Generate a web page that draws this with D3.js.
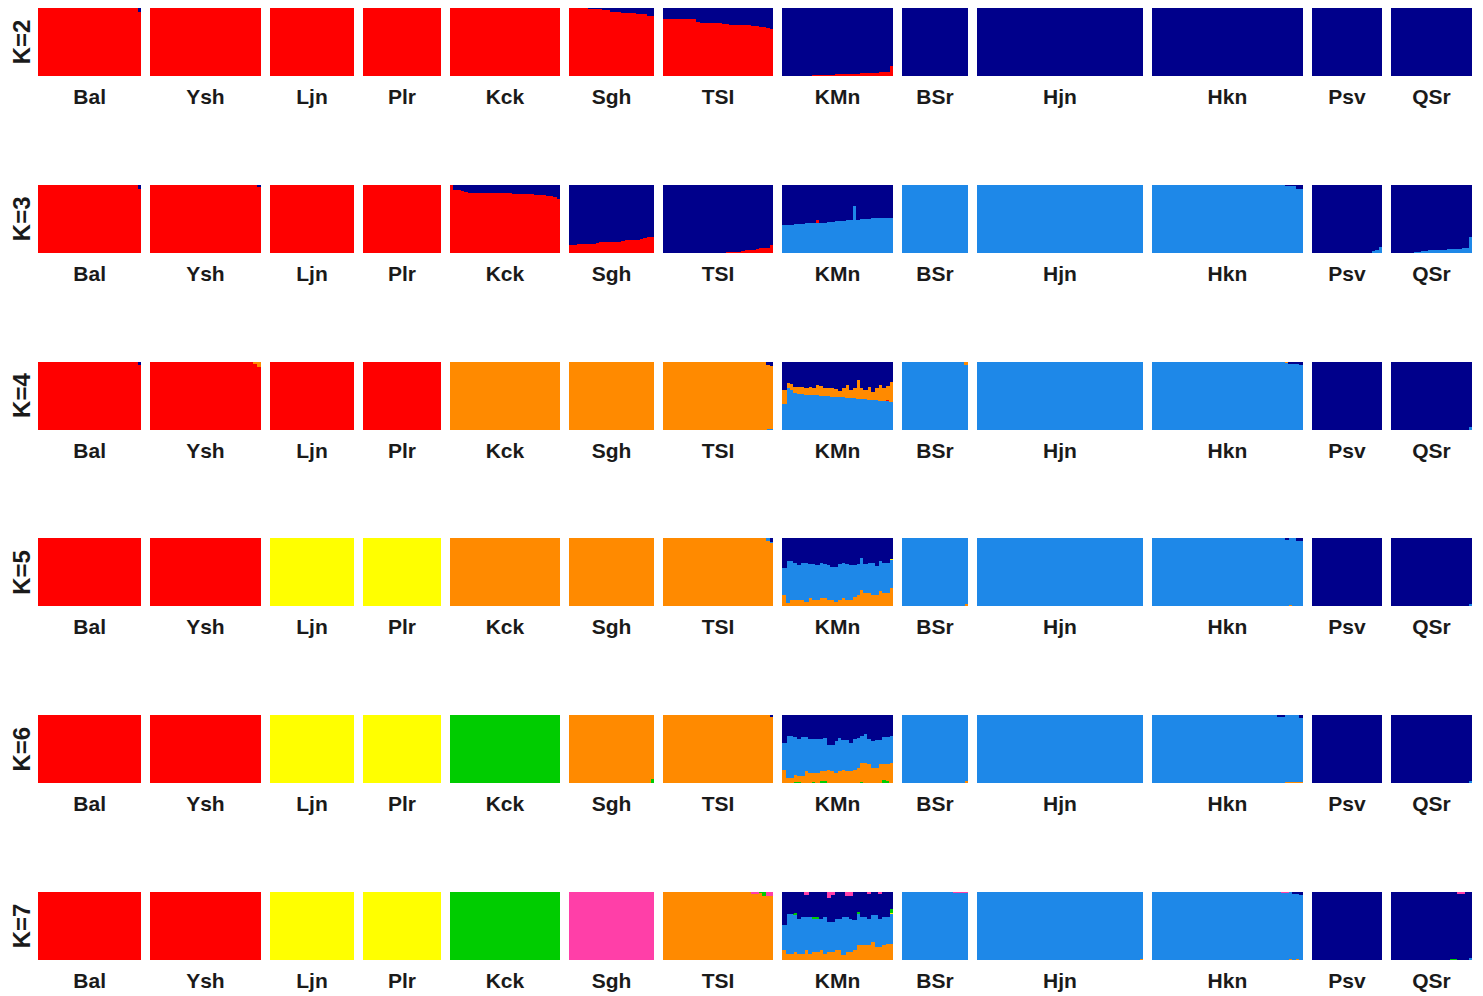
<!DOCTYPE html>
<html>
<head>
<meta charset="utf-8">
<script src="https://cdn.jsdelivr.net/npm/d3@7"></script>
<style>
  html, body { margin: 0; padding: 0; background: #ffffff; }
  svg { display: block; }
  text { font-family: "Liberation Sans", Arial, sans-serif; font-weight: bold; fill: #1a1a1a; }
</style>
</head>
<body>
<svg id="chart" width="1483" height="996"></svg>
<script>
// Population labels and sample sizes (individuals per population)
const popNames = ["Bal", "Ysh", "Ljn", "Plr", "Kck", "Sgh", "TSI", "KMn", "BSr", "Hjn", "Hkn", "Psv", "QSr"];
const popSizes = [28, 30, 23, 21, 30, 23, 30, 30, 18, 45, 41, 19, 22];

const kLabels = ["K=2", "K=3", "K=4", "K=5", "K=6", "K=7"];

const clusterColors = {
  red: "#FF0000", navy: "#00008B", lblue: "#1E88E8", orange: "#FF8A00",
  yellow: "#FFFF00", green: "#00CC00", pink: "#FF3FA8"
};

// Cluster stacking order (bottom -> top) for each K
const orderK2 = ["red", "navy"];
const orderK3 = ["lblue", "red", "navy"];
const orderK4 = ["lblue", "red", "orange", "navy"];
const orderK5 = ["orange", "lblue", "red", "yellow", "navy"];
const orderK6 = ["green", "orange", "lblue", "red", "yellow", "navy"];
const orderK7 = ["orange", "lblue", "red", "yellow", "green", "navy", "pink"];

// Membership coefficients: per population, runs of [count, q-vector] in stacking order
const qK2 = [
  [[27, [1, 0]], [1, [.94, .06]]],
  [[30, [1, 0]]],
  [[23, [1, 0]]],
  [[21, [1, 0]]],
  [[30, [1, 0]]],
  [[5, [1, 0]], [4, [.985, .015]], [2, [.97, .03]], [3, [.95, .05]], [4, [.93, .07]], [3, [.92, .08]], [2, [.88, .12]]],
  [[9, [.84, .16]], [1, [.80, .20]], [3, [.79, .21]], [3, [.78, .22]], [2, [.77, .23]], [3, [.76, .24]], [3, [.75, .25]], [2, [.74, .26]], [1, [.73, .27]], [1, [.72, .28]], [1, [.71, .29]], [1, [.69, .31]]],
  [[6, [0, 1]], [2, [.01, .99]], [3, [.015, .985]], [2, [.02, .98]], [1, [.025, .975]], [3, [.03, .97]], [2, [.035, .965]], [2, [.04, .96]], [2, [.045, .955]], [2, [.05, .95]], [1, [.055, .945]], [3, [.06, .94]], [1, [.15, .85]]],
  [[18, [0, 1]]],
  [[45, [0, 1]]],
  [[41, [0, 1]]],
  [[19, [0, 1]]],
  [[22, [0, 1]]]
];

const qK3 = [
  [[27, [0, 1, 0]], [1, [0, .95, .05]]],
  [[29, [0, 1, 0]], [1, [0, .97, .03]]],
  [[23, [0, 1, 0]]],
  [[21, [0, 1, 0]]],
  [[1, [0, 1, 0]], [2, [0, .93, .07]], [1, [0, .92, .08]], [1, [0, .90, .10]], [4, [0, .89, .11]], [3, [0, .885, .115]], [5, [0, .88, .12]], [3, [0, .875, .125]], [3, [0, .87, .13]], [1, [0, .86, .14]], [1, [0, .855, .145]], [1, [0, .85, .15]], [1, [0, .845, .155]], [1, [0, .84, .16]], [1, [0, .83, .17]], [1, [0, .80, .20]]],
  [[2, [0, .12, .88]], [4, [0, .13, .87]], [1, [0, .14, .86]], [1, [0, .15, .85]], [4, [0, .16, .84]], [2, [0, .17, .83]], [1, [0, .18, .82]], [3, [0, .19, .81]], [1, [0, .20, .80]], [1, [0, .21, .79]], [1, [0, .22, .78]], [1, [0, .23, .77]], [1, [0, .24, .76]]],
  [[17, [0, 0, 1]], [2, [0, .015, .985]], [2, [0, .02, .98]], [1, [0, .03, .97]], [1, [0, .04, .96]], [2, [0, .05, .95]], [1, [0, .06, .94]], [1, [0, .07, .93]], [2, [0, .08, .92]], [1, [0, .12, .88]]],
  [[1, [.41, 0, .59]], [2, [.42, 0, .58]], [3, [.43, 0, .57]], [3, [.44, 0, .56]], [1, [.45, .04, .51]], [2, [.45, 0, .55]], [2, [.46, 0, .54]], [3, [.47, 0, .53]], [2, [.48, 0, .52]], [1, [.69, 0, .31]], [1, [.48, 0, .52]], [3, [.50, 0, .50]], [3, [.51, 0, .49]], [3, [.52, 0, .48]]],
  [[18, [1, 0, 0]]],
  [[45, [1, 0, 0]]],
  [[36, [1, 0, 0]], [1, [.99, 0, .01]], [2, [.98, 0, .02]], [2, [.94, 0, .06]]],
  [[16, [0, 0, 1]], [1, [.03, 0, .97]], [1, [.05, 0, .95]], [1, [.09, 0, .91]]],
  [[6, [0, 0, 1]], [1, [.015, 0, .985]], [1, [.02, 0, .98]], [1, [.03, 0, .97]], [1, [.035, 0, .965]], [2, [.04, 0, .96]], [2, [.045, 0, .955]], [1, [.05, 0, .95]], [1, [.055, 0, .945]], [2, [.06, 0, .94]], [1, [.065, 0, .935]], [1, [.07, 0, .93]], [1, [.08, 0, .92]], [1, [.24, 0, .76]]]
];

const qK4 = [
  [[27, [0, 1, 0, 0]], [1, [0, .95, 0, .05]]],
  [[28, [0, 1, 0, 0]], [1, [0, .97, .03, 0]], [1, [0, .93, .07, 0]]],
  [[23, [0, 1, 0, 0]]],
  [[21, [0, 1, 0, 0]]],
  [[30, [0, 0, 1, 0]]],
  [[23, [0, 0, 1, 0]]],
  [[28, [0, 0, 1, 0]], [1, [.02, 0, .93, .05]], [1, [.02, 0, .92, .06]]],
  [[1, [.385, 0, .20, .415]], [1, [.61, 0, .075, .315]], [1, [.585, 0, .085, .33]], [1, [.55, 0, .085, .365]], [1, [.535, 0, .09, .375]],
   [1, [.525, 0, .10, .375]], [1, [.52, 0, .09, .39]], [1, [.515, 0, .11, .375]], [1, [.51, 0, .10, .39]], [1, [.51, 0, .15, .34]],
   [1, [.505, 0, .145, .35]], [1, [.50, 0, .12, .38]], [1, [.495, 0, .115, .39]], [1, [.49, 0, .12, .39]], [1, [.485, 0, .115, .40]],
   [1, [.485, 0, .085, .43]], [1, [.48, 0, .13, .39]], [1, [.475, 0, .185, .34]], [1, [.47, 0, .115, .415]], [1, [.465, 0, .145, .39]],
   [1, [.46, 0, .275, .265]], [1, [.455, 0, .155, .39]], [1, [.45, 0, .135, .415]], [1, [.445, 0, .19, .365]], [1, [.44, 0, .12, .44]],
   [1, [.435, 0, .175, .39]], [1, [.43, 0, .23, .34]], [1, [.42, 0, .19, .39]], [1, [.42, .02, .21, .35]], [1, [.41, 0, .29, .30]]],
  [[17, [1, 0, 0, 0]], [1, [.96, 0, .04, 0]]],
  [[45, [1, 0, 0, 0]]],
  [[36, [1, 0, 0, 0]], [1, [.98, 0, .02, 0]], [3, [.97, 0, 0, .03]], [1, [.95, 0, 0, .05]]],
  [[19, [0, 0, 0, 1]]],
  [[21, [0, 0, 0, 1]], [1, [.04, 0, 0, .96]]]
];

const qK5 = [
  [[28, [0, 0, 1, 0, 0]]],
  [[30, [0, 0, 1, 0, 0]]],
  [[23, [0, 0, 0, 1, 0]]],
  [[21, [0, 0, 0, 1, 0]]],
  [[30, [1, 0, 0, 0, 0]]],
  [[23, [1, 0, 0, 0, 0]]],
  [[28, [1, 0, 0, 0, 0]], [1, [.97, .03, 0, 0, 0]], [1, [.93, .02, 0, 0, .05]]],
  [[1, [.175, .40, 0, 0, .425]], [1, [.05, .615, 0, 0, .335]], [1, [.10, .575, 0, 0, .325]], [1, [.10, .55, 0, 0, .35]], [1, [.10, .515, 0, 0, .385]],
   [1, [.10, .54, 0, 0, .36]], [1, [.075, .575, 0, 0, .35]], [1, [.125, .50, 0, 0, .375]], [1, [.10, .525, 0, 0, .375]], [1, [.10, .515, 0, 0, .385]],
   [1, [.125, .515, 0, 0, .36]], [1, [.125, .51, 0, 0, .365]], [1, [.10, .515, 0, 0, .385]], [1, [.10, .485, 0, 0, .415]], [1, [.075, .51, 0, 0, .415]],
   [1, [.10, .525, 0, 0, .375]], [1, [.125, .525, 0, 0, .35]], [1, [.10, .535, 0, 0, .365]], [1, [.10, .52, 0, 0, .38]], [1, [.15, .465, 0, 0, .385]],
   [1, [.175, .45, 0, 0, .375]], [1, [.25, .465, 0, 0, .285]], [1, [.20, .425, 0, 0, .375]], [1, [.20, .45, 0, 0, .35]], [1, [.175, .475, 0, 0, .35]],
   [1, [.175, .425, 0, 0, .40]], [1, [.225, .44, 0, 0, .335]], [1, [.20, .45, 0, 0, .35]], [1, [.20, .45, 0, 0, .35]], [1, [.275, .41, 0, .02, .295]]],
  [[17, [0, 1, 0, 0, 0]], [1, [.04, .96, 0, 0, 0]]],
  [[45, [0, 1, 0, 0, 0]]],
  [[36, [0, 1, 0, 0, 0]], [1, [0, .98, 0, 0, .02]], [1, [.02, .98, 0, 0, 0]], [1, [0, 1, 0, 0, 0]], [2, [0, .96, 0, 0, .04]]],
  [[19, [0, 0, 0, 0, 1]]],
  [[21, [0, 0, 0, 0, 1]], [1, [0, .04, 0, 0, .96]]]
];

const qK6 = [
  [[28, [0, 0, 0, 1, 0, 0]]],
  [[30, [0, 0, 0, 1, 0, 0]]],
  [[23, [0, 0, 0, 0, 1, 0]]],
  [[21, [0, 0, 0, 0, 1, 0]]],
  [[30, [1, 0, 0, 0, 0, 0]]],
  [[19, [0, 1, 0, 0, 0, 0]], [3, [.01, .99, 0, 0, 0, 0]], [1, [.06, .94, 0, 0, 0, 0]]],
  [[29, [0, 1, 0, 0, 0, 0]], [1, [0, .98, 0, 0, 0, .02]]],
  [[1, [0, .205, .395, 0, 0, .40]], [1, [0, .085, .615, 0, 0, .30]], [1, [0, .085, .615, 0, 0, .30]], [1, [.02, .11, .56, 0, 0, .31]], [1, [.02, .09, .54, 0, 0, .35]],
   [1, [0, .11, .58, 0, 0, .31]], [1, [0, .18, .51, 0, 0, .31]], [1, [0, .155, .495, 0, 0, .35]], [1, [.02, .135, .505, 0, 0, .34]], [1, [0, .155, .495, 0, 0, .35]],
   [1, [.03, .15, .47, 0, 0, .35]], [1, [.03, .15, .49, 0, 0, .33]], [1, [0, .205, .365, 0, 0, .43]], [1, [0, .18, .39, 0, 0, .43]], [1, [0, .155, .465, 0, 0, .38]],
   [1, [0, .18, .49, 0, 0, .33]], [1, [0, .205, .435, 0, 0, .36]], [1, [0, .18, .46, 0, 0, .36]], [1, [0, .18, .42, 0, 0, .40]], [1, [0, .205, .445, 0, 0, .35]],
   [1, [0, .23, .44, 0, 0, .33]], [1, [.02, .28, .40, 0, 0, .30]], [1, [0, .30, .435, 0, 0, .265]], [1, [0, .28, .37, 0, 0, .35]], [1, [0, .23, .39, 0, 0, .38]],
   [1, [0, .23, .41, 0, 0, .36]], [1, [0, .28, .36, 0, 0, .36]], [1, [.05, .23, .41, 0, 0, .31]], [1, [.04, .24, .41, 0, 0, .31]], [1, [0, .30, .405, 0, 0, .295]]],
  [[16, [0, 0, 1, 0, 0, 0]], [1, [.01, 0, .99, 0, 0, 0]], [1, [0, .04, .96, 0, 0, 0]]],
  [[45, [0, 0, 1, 0, 0, 0]]],
  [[34, [0, 0, 1, 0, 0, 0]], [2, [0, 0, .98, 0, 0, .02]], [4, [0, .02, .98, 0, 0, 0]], [1, [0, .02, .94, 0, 0, .04]]],
  [[19, [0, 0, 0, 0, 0, 1]]],
  [[19, [0, 0, 0, 0, 0, 1]], [2, [.01, 0, 0, 0, 0, .99]], [1, [0, 0, .04, 0, 0, .96]]]
];

const qK7 = [
  [[28, [0, 0, 1, 0, 0, 0, 0]]],
  [[30, [0, 0, 1, 0, 0, 0, 0]]],
  [[23, [0, 0, 0, 1, 0, 0, 0]]],
  [[21, [0, 0, 0, 1, 0, 0, 0]]],
  [[30, [0, 0, 0, 0, 1, 0, 0]]],
  [[23, [0, 0, 0, 0, 0, 0, 1]]],
  [[24, [1, 0, 0, 0, 0, 0, 0]], [2, [.98, 0, 0, 0, 0, 0, .02]], [1, [.985, 0, 0, 0, .015, 0, 0]], [1, [.95, 0, 0, 0, .05, 0, 0]], [2, [.94, 0, 0, 0, 0, 0, .06]]],
  [[1, [.15, .375, 0, 0, 0, .475, 0]], [1, [.10, .585, 0, 0, 0, .315, 0]], [1, [.10, .585, 0, 0, 0, .315, 0]], [1, [.12, .55, 0, 0, .02, .31, 0]], [1, [.10, .51, 0, 0, 0, .39, 0]],
   [1, [.10, .53, 0, 0, 0, .37, 0]], [1, [.15, .49, 0, 0, 0, .32, .04]], [1, [.10, .54, 0, 0, 0, .36, 0]], [1, [.12, .49, 0, 0, .03, .36, 0]], [1, [.12, .49, 0, 0, .02, .37, 0]],
   [1, [.15, .46, 0, 0, 0, .39, 0]], [1, [.10, .54, 0, 0, 0, .36, 0]], [1, [.12, .445, 0, 0, 0, .355, .08]], [1, [.12, .445, 0, 0, 0, .395, .04]], [1, [.15, .46, 0, 0, 0, .39, 0]],
   [1, [.15, .46, 0, 0, 0, .39, 0]], [1, [.075, .565, 0, 0, 0, .36, 0]], [1, [.12, .52, 0, 0, 0, .31, .05]], [1, [.12, .49, 0, 0, 0, .33, .06]], [1, [.15, .44, 0, 0, 0, .41, 0]],
   [1, [.22, .465, 0, 0, .03, .285, 0]], [1, [.22, .42, 0, 0, 0, .36, 0]], [1, [.22, .42, 0, 0, 0, .36, 0]], [1, [.22, .39, 0, 0, 0, .36, .03]], [1, [.27, .39, 0, 0, 0, .34, 0]],
   [1, [.195, .465, 0, 0, 0, .34, 0]], [1, [.195, .415, 0, 0, 0, .36, .03]], [1, [.22, .42, 0, 0, 0, .36, 0]], [1, [.245, .395, 0, 0, 0, .36, 0]], [1, [.245, .44, 0, .01, .06, .245, 0]]],
  [[14, [0, 1, 0, 0, 0, 0, 0]], [4, [0, .985, 0, 0, 0, 0, .015]]],
  [[44, [0, 1, 0, 0, 0, 0, 0]], [1, [.02, .98, 0, 0, 0, 0, 0]]],
  [[35, [0, 1, 0, 0, 0, 0, 0]], [2, [0, .985, 0, 0, 0, 0, .015]], [1, [.02, .98, 0, 0, 0, 0, 0]], [1, [0, .97, 0, 0, 0, .03, 0]], [1, [.02, .95, 0, 0, 0, .03, 0]], [1, [0, .96, 0, 0, 0, .04, 0]]],
  [[19, [0, 0, 0, 0, 0, 1, 0]]],
  [[16, [0, 0, 0, 0, 0, 1, 0]], [2, [0, 0, 0, 0, .015, .985, 0]], [2, [0, 0, 0, 0, 0, .98, .02]], [1, [0, 0, 0, 0, 0, 1, 0]], [1, [0, .04, 0, 0, 0, .96, 0]]]
];

const rows = [
  { label: kLabels[0], order: orderK2, q: qK2 },
  { label: kLabels[1], order: orderK3, q: qK3 },
  { label: kLabels[2], order: orderK4, q: qK4 },
  { label: kLabels[3], order: orderK5, q: qK5 },
  { label: kLabels[4], order: orderK6, q: qK6 },
  { label: kLabels[5], order: orderK7, q: qK7 }
];

// ---- Layout ----
const gapUnits = 2.4;           // gap between populations, in individual widths
const barHeight = 68;
const popStart = [];
let acc = 0;
popSizes.forEach((n, i) => { popStart.push(acc); acc += n + (i < popSizes.length - 1 ? gapUnits : 0); });
const totalUnits = acc;

const x = d3.scaleLinear().domain([0, totalUnits]).range([38, 1472]);
const rowTop = d3.scaleLinear().domain([0, rows.length - 1]).range([8, 892]);

const svg = d3.select("#chart");

rows.forEach((row, r) => {
  const top = rowTop(r);
  const y = d3.scaleLinear().domain([0, 1]).range([top + barHeight, top]);
  const K = row.order.length;
  const g = svg.append("g").attr("class", "row");

  row.q.forEach((runs, p) => {
    // expand runs into individuals
    const inds = [];
    runs.forEach(([n, qv]) => { for (let j = 0; j < n; j++) inds.push(qv); });
    const stack = d3.stack().keys(d3.range(K)).value((d, k) => d[k]);
    const series = stack(inds);
    const n = inds.length;

    const pg = g.append("g").attr("class", "pop");
    series.forEach((s, k) => {
      pg.selectAll(null)
        .data(s.map((seg, i) => ({ seg, i })).filter(d => d.seg[1] - d.seg[0] > 0))
        .join("rect")
        .attr("x", d => x(popStart[p] + d.i))
        .attr("width", d => x(popStart[p] + d.i + 1) - x(popStart[p] + d.i) + (d.i < n - 1 ? 0.6 : 0))
        .attr("y", d => y(d.seg[1]))
        .attr("height", d => Math.max(0, y(d.seg[0]) - y(d.seg[1]) + (d.seg[0] > 0 ? 0.3 : 0)))
        .attr("fill", clusterColors[row.order[k]])
        .attr("shape-rendering", "crispEdges");
    });

    // population label
    g.append("text")
      .attr("x", (x(popStart[p]) + x(popStart[p] + popSizes[p])) / 2)
      .attr("y", top + barHeight + 28)
      .attr("text-anchor", "middle")
      .attr("font-size", 21)
      .text(popNames[p]);
  });

  // K label, rotated
  g.append("text")
    .attr("transform", `translate(30,${top + barHeight / 2}) rotate(-90)`)
    .attr("text-anchor", "middle")
    .attr("font-size", 24)
    .text(row.label);
});
</script>
</body>
</html>
